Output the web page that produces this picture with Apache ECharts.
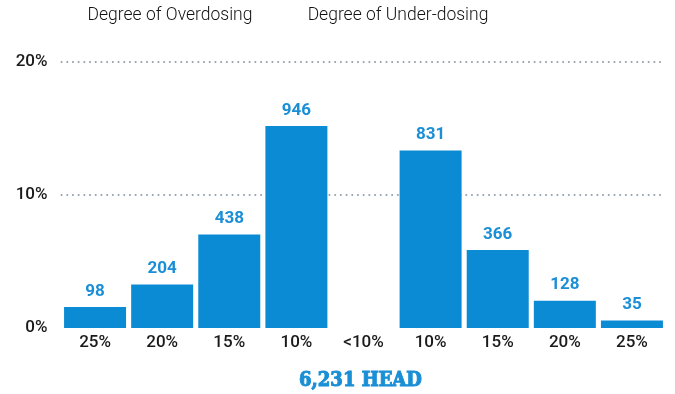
<!DOCTYPE html>
<html>
<head>
<meta charset="utf-8">
<script src="https://cdn.jsdelivr.net/npm/echarts@6/dist/echarts.min.js"></script>
<style>
  html, body { margin: 0; padding: 0; background: #ffffff; }
  #chart { width: 675px; height: 394px; }
</style>
</head>
<body>
<div id="chart"></div>
<script>
// Dosing deviation buckets (overdosing on the left, under-dosing on the right)
const categories = ['25%', '20%', '15%', '10%', '<10%', '10%', '15%', '20%', '25%'];
// Head counts per bucket; the <10% bucket is not drawn
const headCounts = [98, 204, 438, 946, null, 831, 366, 128, 35];
const totalHead = 6231;
const yTicks = [0, 10, 20];
const groupTitles = ['Degree of Overdosing', 'Degree of Under-dosing'];
const footerText = '6,231 HEAD';

const BAR = '#0b8bd3';
const LABEL_BLUE = '#1a8fd6';

// Bar height = share of the whole herd, in percent
const shares = headCounts.map(c => c == null ? null : { value: c / totalHead * 100, count: c });

const chart = echarts.init(document.getElementById('chart'), null, { renderer: 'canvas' });
chart.setOption({
  animation: false,
  grid: { left: 61.5, right: 9.5, top: 62, bottom: 66 },
  xAxis: {
    type: 'category',
    data: categories,
    axisLine: { show: false },
    axisTick: { show: false },
    axisLabel: {
      margin: 6,
      fontFamily: 'Roboto',
      fontWeight: 500,
      fontSize: 17,
      color: '#1a1a1a'
    }
  },
  yAxis: {
    type: 'value',
    min: yTicks[0],
    max: yTicks[yTicks.length - 1],
    interval: yTicks[1] - yTicks[0],
    axisLine: { show: false },
    axisTick: { show: false },
    axisLabel: {
      margin: 14,
      formatter: v => v + '%',
      fontFamily: 'Roboto',
      fontWeight: 500,
      fontSize: 17,
      color: '#1a1a1a'
    },
    splitLine: {
      show: true,
      lineStyle: {
        color: ['rgba(0,0,0,0)', '#95a2ad', '#95a2ad'],
        width: 2,
        type: [0.1, 5.6],
        cap: 'round'
      }
    }
  },
  series: [{
    type: 'bar',
    data: shares,
    barWidth: 62,
    itemStyle: { color: BAR },
    label: {
      show: true,
      position: 'top',
      distance: 7,
      formatter: p => p.data && p.data.count != null ? String(p.data.count) : '',
      fontFamily: 'Roboto',
      fontWeight: 'bold',
      fontSize: 17,
      color: LABEL_BLUE
    }
  }],
  graphic: [
    {
      type: 'text', x: 170, y: 7,
      style: {
        text: groupTitles[0],
        fontFamily: 'Roboto', fontWeight: 300, fontSize: 17.5, fill: '#111',
        textAlign: 'center', textVerticalAlign: 'top'
      }
    },
    {
      type: 'text', x: 398, y: 7,
      style: {
        text: groupTitles[1],
        fontFamily: 'Roboto', fontWeight: 300, fontSize: 17.5, fill: '#111',
        textAlign: 'center', textVerticalAlign: 'top'
      }
    },
    {
      type: 'text', x: 360.5, y: 381,
      style: {
        text: footerText,
        fontFamily: 'DejaVu Serif Condensed, Liberation Serif, serif',
        fontWeight: 'bold', fontSize: 20, fill: LABEL_BLUE,
        stroke: LABEL_BLUE, lineWidth: 1,
        textAlign: 'center', textVerticalAlign: 'middle'
      }
    }
  ]
});
</script>
</body>
</html>
